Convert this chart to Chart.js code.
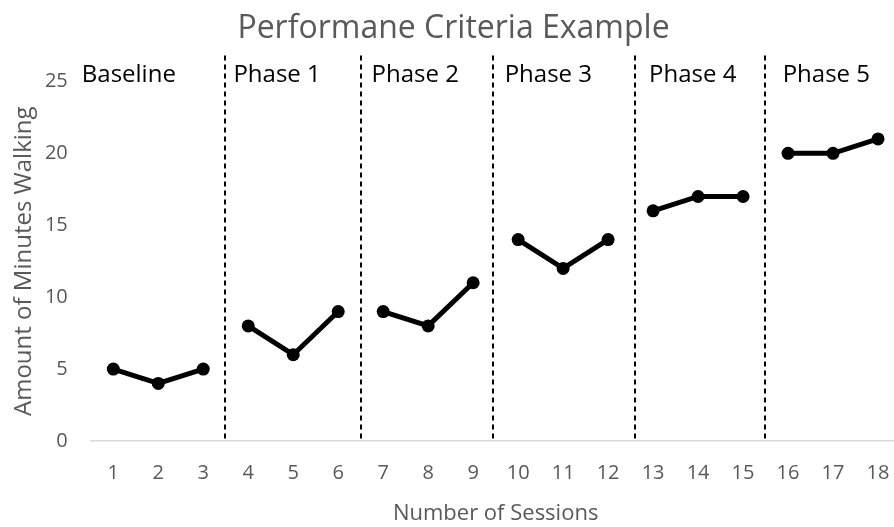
<!DOCTYPE html>
<html>
<head>
<meta charset="utf-8">
<script src="https://cdn.jsdelivr.net/npm/chart.js@4"></script>
<style>
  html, body { margin: 0; padding: 0; background: #fff; overflow: hidden; width: 894px; height: 527px; }
  canvas { display: block; }
</style>
</head>
<body>
<canvas id="chart" width="907" height="527"></canvas>
<script>
// Session numbers along the x axis
const sessions = ['1','2','3','4','5','6','7','8','9','10','11','12','13','14','15','16','17','18'];
// Minutes walked in each session
const minutes = [5, 4, 5, 8, 6, 9, 9, 8, 11, 14, 12, 14, 16, 17, 17, 20, 20, 21];
// Phase change lines, in session units
const phaseBoundaries = [3.48, 6.5, 9.44, 12.6, 15.49];
// Phase names and where each name starts, in session units
const phaseNames = ['Baseline', 'Phase 1', 'Phase 2', 'Phase 3', 'Phase 4', 'Phase 5'];
const phaseLabelAt = [0.3, 3.67, 6.74, 9.7, 12.91, 15.88];
// Y axis ticks
const yTicks = [0, 5, 10, 15, 20, 25];

const FONT = "'Open Sans', 'Liberation Sans', sans-serif";
const GREY = '#595959';

// Which phase a session belongs to
function phaseOf(session) {
  return phaseBoundaries.filter(b => b < session).length;
}

// Dashed phase change lines and the phase names above each section
const phasePlugin = {
  id: 'phases',
  beforeDatasetsDraw(chart) {
    const { ctx, chartArea, scales: { x, y } } = chart;
    ctx.save();
    ctx.strokeStyle = '#000';
    ctx.lineWidth = 2;
    ctx.setLineDash([5, 4]);
    phaseBoundaries.forEach(b => {
      const px = Math.round(x.getPixelForValue(b - 1));
      ctx.beginPath();
      ctx.moveTo(px, chartArea.top - 26);
      ctx.lineTo(px, y.getPixelForValue(0));
      ctx.stroke();
    });
    ctx.setLineDash([]);
    ctx.fillStyle = '#000';
    ctx.font = '24px ' + FONT;
    ctx.textAlign = 'left';
    ctx.textBaseline = 'middle';
    phaseNames.forEach((name, i) => {
      ctx.fillText(name, x.getPixelForValue(phaseLabelAt[i] - 1), chartArea.top - 6);
    });
    ctx.restore();
  }
};

new Chart(document.getElementById('chart'), {
  type: 'line',
  data: {
    labels: sessions,
    datasets: [{
      data: minutes,
      borderColor: '#000',
      backgroundColor: '#000',
      borderWidth: 5,
      pointRadius: 6.5,
      pointBorderWidth: 0,
      pointBackgroundColor: '#000',
      tension: 0,
      segment: {
        borderColor: ctx => phaseOf(ctx.p0DataIndex + 1) !== phaseOf(ctx.p1DataIndex + 1) ? 'rgba(0,0,0,0)' : '#000'
      }
    }]
  },
  options: {
    responsive: false,
    devicePixelRatio: 1,
    animation: false,
    layout: { padding: 0 },
    plugins: {
      legend: { display: false },
      tooltip: { enabled: false },
      title: {
        display: true,
        text: 'Performane Criteria Example',
        color: GREY,
        font: { family: FONT, size: 32, weight: 'normal', lineHeight: 1.2 },
        padding: { top: 10, bottom: 33 }
      }
    },
    scales: {
      x: {
        type: 'category',
        offset: true,
        grid: { display: false, drawTicks: false },
        border: { display: true, color: '#d9d9d9', width: 1.5 },
        ticks: {
          color: GREY,
          font: { family: FONT, size: 20 },
          padding: 20,
          maxRotation: 0,
          autoSkip: false
        },
        title: {
          display: true,
          text: 'Number of Sessions',
          color: GREY,
          font: { family: FONT, size: 22 },
          padding: 0
        },
        afterFit(scale) {
          scale.height = 86;
          scale.paddingLeft = 0;
          scale.paddingRight = 0;
        }
      },
      y: {
        min: 0,
        max: 25,
        grid: { display: false, drawTicks: false },
        border: { display: false },
        afterBuildTicks(scale) { scale.ticks = yTicks.map(v => ({ value: v })); },
        ticks: {
          color: GREY,
          font: { family: FONT, size: 20 },
          padding: 23
        },
        title: {
          display: true,
          text: 'Amount of Minutes Walking',
          color: GREY,
          font: { family: FONT, size: 24 },
          padding: { top: 10, bottom: 0 }
        },
        afterFit(scale) { scale.width = 90.8; }
      }
    }
  },
  plugins: [phasePlugin]
});
</script>
</body>
</html>
